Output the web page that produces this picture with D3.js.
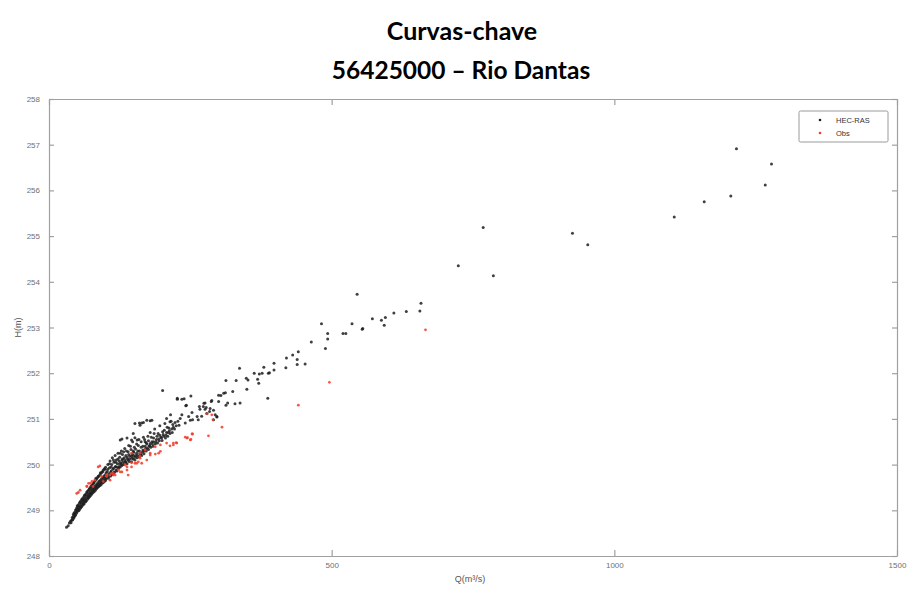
<!DOCTYPE html>
<html><head><meta charset="utf-8">
<script src="https://cdn.jsdelivr.net/npm/d3@7"></script>
<style>
html,body{margin:0;padding:0;background:#fff;}
svg{display:block;}
</style></head>
<body><svg id="c" width="909" height="590"></svg>
<script>
const titleLines = ["Curvas-chave", "56425000 – Rio Dantas"];
const xLabel = "Q(m³/s)";
const yLabel = "H(m)";
const seriesNames = ["HEC-RAS", "Obs"];
const xTicks = [0, 500, 1000, 1500];
const yTicks = [248, 249, 250, 251, 252, 253, 254, 255, 256, 257, 258];

// HEC-RAS simulated points [Q, H]
const hecBand = [
[31,248.63],[34,248.66],
[40,248.78],[41,248.84],[42,248.8],[43,248.9],[44,248.83],[45,248.95],[45,248.87],[46,248.92],[47,249.0],[47,248.9],[48,248.97],[49,249.05],[49,248.94],[50,249.1],[50,248.98],[51,249.03],[52,249.12],[52,248.99],[53,249.07],[54,249.16],[54,249.03],[55,249.1],[56,249.2],[56,249.05],[57,249.14],[58,249.24],[58,249.09],[59,249.17],[60,249.27],[60,249.12],
[61,249.2],[62,249.3],[62,249.14],[63,249.24],[64,249.34],[64,249.18],[65,249.27],[66,249.37],[66,249.21],[67,249.31],[68,249.41],[68,249.24],[69,249.34],[70,249.44],[70,249.27],[71,249.37],[72,249.48],[72,249.3],[73,249.4],[74,249.52],[74,249.33],[75,249.44],[76,249.55],[76,249.36],[77,249.47],[78,249.58],[78,249.39],[79,249.5],[80,249.62],[80,249.41],
[81,249.52],[82,249.65],[82,249.44],[83,249.55],[84,249.68],[84,249.47],[85,249.58],[86,249.72],[86,249.5],[87,249.61],[88,249.75],[88,249.52],[89,249.64],[90,249.78],[90,249.54],[91,249.66],[92,249.81],[92,249.56],[93,249.69],[94,249.84],[94,249.59],[95,249.72],[96,249.88],[96,249.61],[97,249.74],[98,249.91],[98,249.63],[99,249.77],[100,249.94],[100,249.65],
[102,249.72],[103,249.85],[104,250.0],[105,249.7],[106,249.8],[107,249.93],[108,250.08],[109,249.75],[110,249.86],[111,250.0],[112,250.15],[113,249.8],[114,249.92],[115,250.05],[116,249.84],[117,250.2],[118,249.96],[119,250.1],[120,249.86],[121,250.02],[122,250.25],[123,249.92],[124,250.08],[125,250.16],[126,249.95],[127,250.04],[128,250.3],[129,249.98],[130,250.12],[130,250.22],
[132,250.0],[133,250.15],[134,250.35],[135,250.05],[136,250.2],[138,250.02],[139,250.12],[140,250.28],[141,250.42],[142,250.07],[143,250.18],[145,250.33],[146,250.06],[147,250.22],[148,250.5],[149,250.12],[150,250.27],[151,250.38],[152,250.1],[154,250.2],[155,250.45],[156,250.15],[157,250.3],[159,250.55],[160,250.17],[161,250.25],[163,250.38],[164,250.2],[166,250.32],[167,250.6],[168,250.24],[170,250.4],[170,250.5],
[172,250.3],[173,250.45],[175,250.62],[176,250.33],[178,250.42],[179,250.7],[180,250.38],[182,250.5],[184,250.4],[185,250.58],[187,250.78],[188,250.45],[190,250.55],[192,250.47],[193,250.68],[195,250.52],[196,250.85],[198,250.6],[200,250.53],[201,250.72],[203,250.62],[205,250.9],[206,250.58],[208,250.7],[210,250.62],[212,250.8],[214,250.68],[216,250.95],[218,250.7],[220,250.82]
];
const hecBandExtra = [
[36,248.72],[38,248.76],[39,248.73],[41,248.79],[43,248.85],[44,248.93],[46,248.88],[48,249.02],[51,249.08],[53,249.0],[55,249.18],[57,249.08],[59,249.23],[61,249.15],
[62,249.22],[63,249.33],[65,249.2],[67,249.4],[69,249.28],[71,249.46],[71,249.31],[73,249.36],[75,249.5],[75,249.38],[77,249.42],[79,249.6],[79,249.44],[81,249.47],[83,249.7],[83,249.5],[85,249.53],[87,249.74],[87,249.55],[89,249.58],[91,249.82],[91,249.6],[93,249.62],[95,249.85],[95,249.64],[97,249.67],[99,249.9],[99,249.7],
[101,249.69],[101,249.82],[103,249.75],[104,249.9],[106,249.74],[107,250.02],[109,249.83],[110,249.95],[111,249.78],[113,249.9],[114,250.1],[115,249.82],[117,249.95],[118,250.05],[119,249.88],[121,249.94],[122,250.12],[124,249.96],[125,250.02],[126,250.25],[128,250.0],[129,250.1],[131,250.05],[132,250.28],[134,250.1],[136,250.06],[137,250.3],[138,250.16],[140,250.1],[141,250.22],[143,250.12],[144,250.4],[146,250.18],[147,250.14],[149,250.3],[150,250.2],
[152,250.16],[153,250.34],[155,250.25],[157,250.2],[158,250.42],[160,250.3],[162,250.22],[163,250.5],[165,250.27],[166,250.4],[168,250.3],[169,250.55],[171,250.35],[172,250.48],[174,250.36],[176,250.52],[177,250.4],[179,250.46],[181,250.6],[183,250.45],[185,250.5],[186,250.68],[189,250.5],[191,250.62],[194,250.56],[196,250.64],[199,250.58],[202,250.66],[204,250.75],[207,250.64],[209,250.82],[211,250.7],[213,250.74],[217,250.78],[219,250.88],[222,250.78],[225,250.85],[228,250.95],[230,250.86]
];
const hecScatter = [
[126,250.54],[149,250.68],[179,250.96],[161,250.86],[129,250.56],[138,250.58],[146,250.54],[156,250.54],[152,250.59],
[152,250.90],[160,250.91],[164,250.91],[167,250.92],[173,250.97],[182,250.97],[201,251.62],
[208,251.01],[214,250.94],[215,251.09],[223,250.92],[232,251.01],[235,251.09],[241,250.91],[247,251.05],[250,250.97],[254,250.98],[264,250.98],[227,251.43],[235,251.43],[243,251.30],
[239,251.44],[227,251.45],[242,251.29],[251,251.50],[253,251.14],[262,251.05],[266,251.27],[267,251.21],[270,251.06],[273,251.27],[274,251.34],[276,251.35],[276,251.21],[278,251.25],[279,251.12],[284,251.16],[285,251.23],[287,251.38],[288,251.40],[291,250.98],[291,251.19],[294,251.09],[297,251.05],[297,251.04],[300,251.38],[300,251.52],[304,251.51],
[309,251.56],[312,251.57],[313,251.30],[313,251.84],[316,251.35],[325,251.60],[329,251.33],[331,251.84],[337,252.11],[338,251.35],[349,251.89],[350,251.65],[352,251.85],[363,252.00],[369,251.87],[371,251.78],[372,251.98],[377,252.00],[380,252.13],[387,251.45],[388,252.00],[390,252.01],[398,252.22],[398,252.07],
[419,252.12],[420,252.33],[431,252.40],[439,252.30],[439,252.19],[441,252.47],[453,252.20],[464,252.68],[482,253.08],[489,252.54],[493,252.87],[493,252.75],[520,252.87],[525,252.87],[536,253.08],[545,253.73],[554,252.96],[555,252.98],[572,253.19],[588,253.16],[593,253.05],[595,253.22],[610,253.32],[632,253.35],[656,253.36],[658,253.53],
[724,254.35],[768,255.19],[786,254.13],[926,255.06],[953,254.81],[1106,255.42],[1159,255.75],[1206,255.88],[1216,256.91],[1267,256.12],[1278,256.58]
];
// Observed points [Q, H]
const obs = [
[49,249.37],[52,249.39],[55,249.44],[67,249.53],[67,249.52],[70,249.59],[73,249.59],[76,249.63],[78,249.52],[81,249.66],[87,249.95],[90,249.97],[93,249.74],[96,249.63],
[102,249.77],[102,249.74],[108,249.66],[108,249.77],[111,249.81],[114,249.81],[114,249.77],[117,249.77],[123,249.88],[126,249.84],[129,249.84],[135,249.99],[138,249.88],[138,249.95],[140,249.77],[146,249.95],[146,250.04],[146,250.25],
[152,250.03],[155,250.03],[158,250.06],[161,250.14],[161,250.18],[161,250.25],[164,250.03],[170,250.32],[173,250.10],[179,250.21],[179,250.25],[188,250.23],[188,250.39],[194,250.25],[197,250.29],[197,250.43],
[208,250.47],[214,250.41],[220,250.47],[220,250.43],[225,250.48],[226,250.47],[241,250.60],[244,250.58],[245,250.59],[250,250.54],[251,250.55],[253,250.67],[254,250.67],[280,251.11],[282,250.63],[288,251.09],[290,250.98],[306,250.82],
[441,251.30],[496,251.80],[666,252.95]
];

const svg = d3.select("#c");
const Wd = 909, Ht = 590;
const m = {l: 49, r: 12, t: 99, b: 34};
const x = d3.scaleLinear().domain([0, 1500]).range([m.l, Wd - m.r]);
const y = d3.scaleLinear().domain([248, 258]).range([Ht - m.b, m.t]);

// Titles
const tFont = "Lato, 'Open Sans', sans-serif";
svg.append("text").attr("x", 462).attr("y", 40).attr("text-anchor", "middle")
  .attr("font-family", tFont).attr("font-weight", 700).attr("font-size", 25).attr("fill", "#000").text(titleLines[0]);
svg.append("text").attr("x", 461).attr("y", 79).attr("text-anchor", "middle")
  .attr("font-family", tFont).attr("font-weight", 700).attr("font-size", 24.5).attr("fill", "#000").text(titleLines[1]);

// Axes
const frameCol = "#a0a0a0", lblCol = "#707070";
const gB = svg.append("g").attr("transform", `translate(0,${y(248)})`)
  .call(d3.axisBottom(x).tickValues(xTicks).tickSizeInner(-6).tickSizeOuter(0).tickPadding(6).tickFormat(d3.format("d")));
const gT = svg.append("g").attr("transform", `translate(0,${y(258)})`)
  .call(d3.axisTop(x).tickValues(xTicks).tickSizeInner(-6).tickSizeOuter(0).tickFormat(""));
const gL = svg.append("g").attr("transform", `translate(${x(0)},0)`)
  .call(d3.axisLeft(y).tickValues(yTicks).tickSizeInner(-5).tickSizeOuter(0).tickPadding(9).tickFormat(d3.format("d")));
const gR = svg.append("g").attr("transform", `translate(${x(1500)},0)`)
  .call(d3.axisRight(y).tickValues(yTicks).tickSizeInner(-5).tickSizeOuter(0).tickFormat(""));
[gB, gT, gL, gR].forEach(g => {
  g.select(".domain").attr("stroke", frameCol).attr("stroke-width", 1.2);
  g.selectAll(".tick line").attr("stroke", frameCol).attr("stroke-width", 1.2);
  g.selectAll(".tick text").attr("fill", lblCol).attr("font-family", "'Liberation Sans', Arial, sans-serif").attr("font-size", 8);
});

// Axis labels
svg.append("text").attr("x", 470).attr("y", 582).attr("text-anchor", "middle")
  .attr("font-family", "'Liberation Sans', Arial, sans-serif").attr("font-size", 9).attr("fill", "#555").text(xLabel);
svg.append("text").attr("transform", `translate(21,${(y(248)+y(258))/2}) rotate(-90)`).attr("text-anchor", "middle")
  .attr("font-family", "'Liberation Sans', Arial, sans-serif").attr("font-size", 9).attr("fill", "#555").text(yLabel);

// Points
const plot = svg.append("g");
const hec = hecBand.concat(hecBandExtra, hecScatter);
plot.selectAll("circle.h").data(hec).join("circle").attr("class", "h")
  .attr("cx", d => x(d[0])).attr("cy", d => y(d[1])).attr("r", 1.5).attr("fill", "#1e1e1e").attr("fill-opacity", 0.85);
plot.selectAll("circle.o").data(obs).join("circle").attr("class", "o")
  .attr("cx", d => x(d[0])).attr("cy", d => y(d[1])).attr("r", 1.4).attr("fill", "#f03c2c").attr("fill-opacity", 0.85);

// Legend
const lg = svg.append("g");
lg.append("rect").attr("x", 799).attr("y", 111).attr("width", 89).attr("height", 31).attr("rx", 1.5)
  .attr("fill", "#fff").attr("stroke", "#9a9a9a").attr("stroke-width", 1);
const lItems = [{n: seriesNames[0], c: "#1e1e1e"}, {n: seriesNames[1], c: "#f03c2c"}];
lItems.forEach((it, i) => {
  lg.append("circle").attr("cx", 820).attr("cy", 120 + i * 13).attr("r", 1.3).attr("fill", it.c);
  lg.append("text").attr("x", 836).attr("y", 123 + i * 13).attr("font-family", "'Liberation Sans', Arial, sans-serif")
    .attr("font-size", 7.5).attr("fill", "#333").text(it.n);
});
</script>
</body></html>
